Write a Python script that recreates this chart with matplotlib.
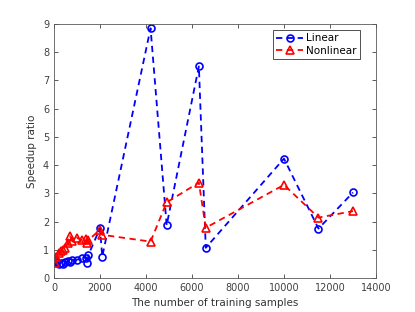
import numpy as np
import matplotlib
matplotlib.use("Agg")
import matplotlib.pyplot as plt

# training sample counts (shared by both methods)
n_samples = [50, 100, 200, 300, 400, 500, 600, 700, 800, 1000, 1200, 1400,
             1450, 1500, 2000, 2100, 4200, 4900, 6300, 6600, 10000, 11500, 13000]

# speedup ratios
linear = [0.62, 0.55, 0.5, 0.52, 0.5, 0.55, 0.6, 0.55, 0.62, 0.65, 0.7, 0.72,
          0.52, 0.82, 1.76, 0.76, 8.85, 1.87, 7.5, 1.07, 4.23, 1.75, 3.03]
nonlinear = [0.52, 0.76, 0.9, 0.95, 1.0, 1.05, 1.25, 1.48, 1.3, 1.42, 1.35, 1.38,
             1.25, 1.35, 1.7, 1.53, 1.29, 2.68, 3.38, 1.78, 3.3, 2.14, 2.37]

fig = plt.figure(figsize=(4.15, 3.12), dpi=100)
ax = fig.add_axes([0.130, 0.109, 0.776, 0.814])

ax.plot(n_samples, linear, '--o', color='blue', lw=1.3, ms=5,
        mfc='none', mew=1.2, label='Linear', dashes=(3.5, 2.5))
ax.plot(n_samples, nonlinear, '--^', color='red', lw=1.3, ms=5.5,
        mfc='none', mew=1.2, label='Nonlinear', dashes=(3.5, 2.5))

ax.set_xlim(0, 14000)
ax.set_ylim(0, 9)
ax.set_xticks(np.arange(0, 14001, 2000))
ax.set_yticks(np.arange(0, 10, 1))
ax.tick_params(direction='in', length=3, labelsize=7, colors='0.25',
               top=True, right=True, width=0.6)
for s in ax.spines.values():
    s.set_color('0.35')
    s.set_linewidth(0.6)

ax.set_xlabel('The number of training samples', fontsize=7.5, color='0.2')
ax.set_ylabel('Speedup ratio', fontsize=7.5, color='0.2')

leg = ax.legend(loc='upper right', fontsize=7.5, fancybox=False, framealpha=1,
                edgecolor='0.2', handlelength=2.6, borderpad=0.3,
                labelspacing=0.2, handletextpad=0.3, borderaxespad=0,
                bbox_to_anchor=(0.95, 0.975))
leg.get_frame().set_linewidth(0.6)

fig.savefig('out.png', dpi=100)
